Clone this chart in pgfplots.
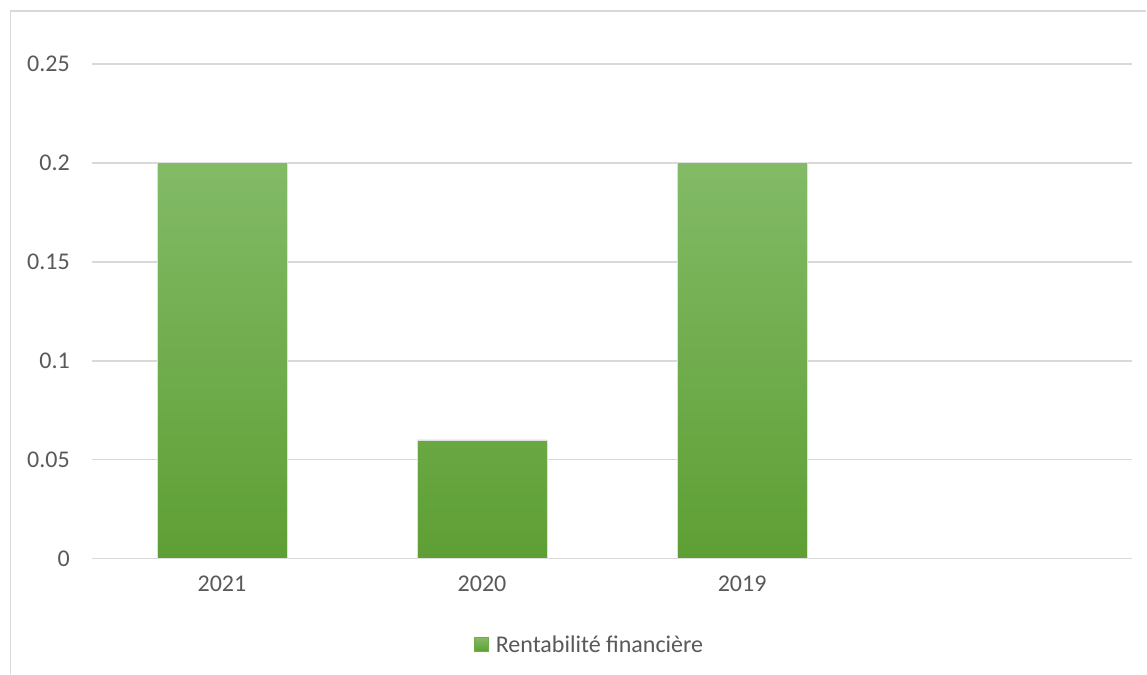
\documentclass[border=0pt]{standalone}
\usepackage{pgfplots}
\pgfplotsset{compat=1.18}
\usepackage{fontspec}
\setmainfont{Carlito}
\definecolor{gridgray}{HTML}{D9D9D9}
\definecolor{txtgray}{HTML}{595959}
\definecolor{bartop}{HTML}{82BA66}
\definecolor{barmid}{HTML}{6FAE45}
\definecolor{barbot}{HTML}{5E9F34}

\begin{document}
\begin{tikzpicture}[x=1pt,y=1pt]
% chart area and its frame
\path (0,0) rectangle (1147,674);
\draw[gridgray, line width=1.5pt] (10.5,0) -- (10.5,663) -- (1147,663);
\begin{axis}[
  at={(92pt,115pt)}, anchor=south west,
  scale only axis, width=1041pt, height=495pt,
  xmin=-0.5, xmax=3.5, ymin=0, ymax=0.25,
  xtick={0,1,2}, xticklabels={2021,2020,2019},
  ytick={0,0.05,0.1,0.15,0.2,0.25},
  yticklabels={0,0.05,0.1,0.15,0.2,0.25},
  axis line style={draw=none},
  major tick length=0pt,
  ymajorgrids, grid style={gridgray, line width=1.5pt},
  tick label style={font=\fontsize{24}{28}\selectfont, text=txtgray, inner sep=0pt},
  yticklabel style={anchor=east, xshift=-22pt},
  xticklabel style={anchor=north, yshift=-17pt},
  legend style={at={(0.4784,-0.1737)}, anchor=center, draw=none,
    font=\fontsize{24}{28}\selectfont, text=txtgray, inner sep=0pt,
    legend cell align=left,
    /tikz/every odd column/.append style={column sep=5pt}},
  legend image code/.code={\fill[barmid] (0pt,-7pt) rectangle (14pt,7pt);},
]
\addplot[ybar, bar width=130pt, draw=black!12, line width=0.8pt,
  top color=bartop, bottom color=barbot]
  coordinates {(0,0.2) (1,0.06) (2,0.2)};
\addlegendentry{Rentabilité financière}
\end{axis}
\end{tikzpicture}
\end{document}
